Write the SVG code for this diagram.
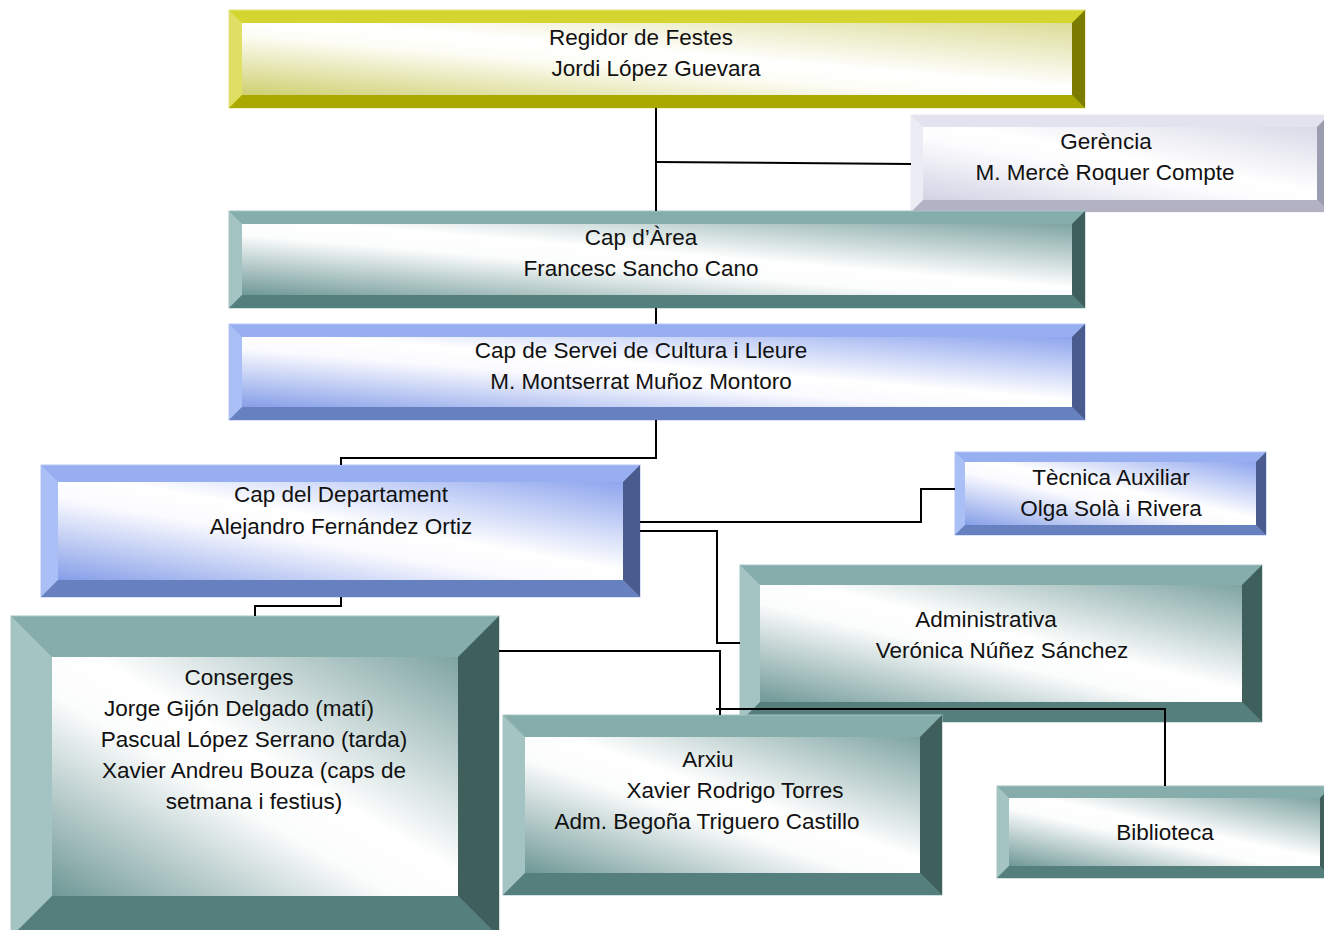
<svg xmlns="http://www.w3.org/2000/svg" width="1324" height="930" viewBox="0 0 1324 930">
<defs>
<linearGradient id="gY" x1="1" y1="0" x2="0" y2="1"><stop offset="0" stop-color="#dcdc98"/><stop offset="0.45" stop-color="#ffffff"/><stop offset="0.58" stop-color="#fdfdf6"/><stop offset="1" stop-color="#cfcf70"/></linearGradient>
<linearGradient id="gT" x1="1" y1="0" x2="0" y2="1"><stop offset="0" stop-color="#7ea4a2"/><stop offset="0.45" stop-color="#ffffff"/><stop offset="0.58" stop-color="#fbfcfc"/><stop offset="1" stop-color="#6e9896"/></linearGradient>
<linearGradient id="gB" x1="1" y1="0" x2="0" y2="1"><stop offset="0" stop-color="#8ea5ee"/><stop offset="0.45" stop-color="#ffffff"/><stop offset="0.58" stop-color="#fbfbff"/><stop offset="1" stop-color="#859ee8"/></linearGradient>
<linearGradient id="gL" x1="1" y1="0" x2="0" y2="1"><stop offset="0" stop-color="#d9d9e8"/><stop offset="0.45" stop-color="#ffffff"/><stop offset="0.58" stop-color="#fcfcfe"/><stop offset="1" stop-color="#d2d2e4"/></linearGradient>
</defs>
<style>
text{font-family:"Liberation Sans",Arial,sans-serif;font-size:22.5px;fill:#111;text-anchor:middle}
.y .o{fill:#d5d52f;stroke:#e4e48a;stroke-width:1}.y .l{fill:#dfdf63}.y .b{fill:#a9a900}.y .r{fill:#7b7b00}.y .i{fill:url(#gY)}
.t .o{fill:#84adab;stroke:#a8c6c4;stroke-width:1}.t .l{fill:#a3c4c2}.t .b{fill:#557f7d}.t .r{fill:#3f5f5d}.t .i{fill:url(#gT)}
.bl .o{fill:#97aff0;stroke:#b4c6f6;stroke-width:1}.bl .l{fill:#aabff5}.bl .b{fill:#6680c0}.bl .r{fill:#4a5c8e}.bl .i{fill:url(#gB)}
.lv .o{fill:#e3e3ef;stroke:#ececf4;stroke-width:1}.lv .l{fill:#ececf5}.lv .b{fill:#b2b2c4}.lv .r{fill:#9c9cb0}.lv .i{fill:url(#gL)}
.c{fill:none;stroke:#000;stroke-width:2}
</style>

<g id="regidor" class="y">
<rect class="o" x="229" y="10" width="856" height="98"/>
<polygon class="l" points="229,10 242,23 242,95 229,108"/>
<polygon class="b" points="229,108 242,95 1072,95 1085,108"/>
<polygon class="r" points="1085,10 1085,108 1072,95 1072,23"/>
<rect class="i" x="242" y="23" width="830" height="72"/>
<text x="641" y="45">Regidor de Festes</text>
<text x="656" y="76">Jordi López Guevara</text>
</g>

<g id="gerencia" class="lv">
<rect class="o" x="911" y="115" width="418" height="97"/>
<polygon class="l" points="911,115 923,127 923,200 911,212"/>
<polygon class="b" points="911,212 923,200 1317,200 1329,212"/>
<polygon class="r" points="1329,115 1329,212 1317,200 1317,127"/>
<rect class="i" x="923" y="127" width="394" height="73"/>
<text x="1106" y="149">Gerència</text>
<text x="1105" y="180">M. Mercè Roquer Compte</text>
</g>

<g id="cap-area" class="t">
<rect class="o" x="229" y="211" width="856" height="97"/>
<polygon class="l" points="229,211 242,224 242,295 229,308"/>
<polygon class="b" points="229,308 242,295 1072,295 1085,308"/>
<polygon class="r" points="1085,211 1085,308 1072,295 1072,224"/>
<rect class="i" x="242" y="224" width="830" height="71"/>
<text x="641" y="245">Cap d’Àrea</text>
<text x="641" y="276">Francesc Sancho Cano</text>
</g>

<g id="cap-servei" class="bl">
<rect class="o" x="229" y="324" width="856" height="96"/>
<polygon class="l" points="229,324 242,337 242,407 229,420"/>
<polygon class="b" points="229,420 242,407 1072,407 1085,420"/>
<polygon class="r" points="1085,324 1085,420 1072,407 1072,337"/>
<rect class="i" x="242" y="337" width="830" height="70"/>
<text x="641" y="358">Cap de Servei de Cultura i Lleure</text>
<text x="641" y="389">M. Montserrat Muñoz Montoro</text>
</g>

<g id="cap-departament" class="bl">
<rect class="o" x="41" y="465" width="599" height="132"/>
<polygon class="l" points="41,465 58,482 58,580 41,597"/>
<polygon class="b" points="41,597 58,580 623,580 640,597"/>
<polygon class="r" points="640,465 640,597 623,580 623,482"/>
<rect class="i" x="58" y="482" width="565" height="98"/>
<text x="341" y="502">Cap del Departament</text>
<text x="341" y="534">Alejandro Fernández Ortiz</text>
</g>

<g id="tecnica" class="bl">
<rect class="o" x="955" y="452" width="311" height="83"/>
<polygon class="l" points="955,452 965,462 965,525 955,535"/>
<polygon class="b" points="955,535 965,525 1256,525 1266,535"/>
<polygon class="r" points="1266,452 1266,535 1256,525 1256,462"/>
<rect class="i" x="965" y="462" width="291" height="63"/>
<text x="1111" y="485">Tècnica Auxiliar</text>
<text x="1111" y="516">Olga Solà i Rivera</text>
</g>

<g id="administrativa" class="t">
<rect class="o" x="740" y="565" width="522" height="157"/>
<polygon class="l" points="740,565 760,585 760,702 740,722"/>
<polygon class="b" points="740,722 760,702 1242,702 1262,722"/>
<polygon class="r" points="1262,565 1262,722 1242,702 1242,585"/>
<rect class="i" x="760" y="585" width="482" height="117"/>
<text x="986" y="627">Administrativa</text>
<text x="1002" y="658">Verónica Núñez Sánchez</text>
</g>

<g id="conserges" class="t">
<rect class="o" x="11" y="616" width="488" height="321"/>
<polygon class="l" points="11,616 52,657 52,896 11,937"/>
<polygon class="b" points="11,937 52,896 458,896 499,937"/>
<polygon class="r" points="499,616 499,937 458,896 458,657"/>
<rect class="i" x="52" y="657" width="406" height="239"/>
<text x="239" y="685">Conserges</text>
<text x="239" y="716">Jorge Gijón Delgado (matí)</text>
<text x="254" y="747">Pascual López Serrano (tarda)</text>
<text x="254" y="778">Xavier Andreu Bouza (caps de</text>
<text x="254" y="809">setmana i festius)</text>
</g>

<g id="arxiu" class="t">
<rect class="o" x="503" y="715" width="439" height="180"/>
<polygon class="l" points="503,715 525,737 525,873 503,895"/>
<polygon class="b" points="503,895 525,873 920,873 942,895"/>
<polygon class="r" points="942,715 942,895 920,873 920,737"/>
<rect class="i" x="525" y="737" width="395" height="136"/>
<text x="708" y="767">Arxiu</text>
<text x="735" y="798">Xavier Rodrigo Torres</text>
<text x="707" y="829">Adm. Begoña Triguero Castillo</text>
</g>

<g id="biblioteca" class="t">
<rect class="o" x="997" y="786" width="335" height="92"/>
<polygon class="l" points="997,786 1009,798 1009,866 997,878"/>
<polygon class="b" points="997,878 1009,866 1320,866 1332,878"/>
<polygon class="r" points="1332,786 1332,878 1320,866 1320,798"/>
<rect class="i" x="1009" y="798" width="311" height="68"/>
<text x="1165" y="840">Biblioteca</text>
</g>

<g id="connectors">
<polyline class="c" points="656,108 656,211"/>
<polyline class="c" points="656,162 911,164"/>
<polyline class="c" points="656,308 656,324"/>
<polyline class="c" points="656,420 656,458 341,458 341,465"/>
<polyline class="c" points="640,522 921,522 921,489 955,489"/>
<polyline class="c" points="640,531 717,531 717,643 740,643"/>
<polyline class="c" points="341,597 341,606 255,606 255,616"/>
<polyline class="c" points="499,651 720,651 720,715"/>
<polyline class="c" points="716,709 1165,709 1165,786"/>
</g>
</svg>
